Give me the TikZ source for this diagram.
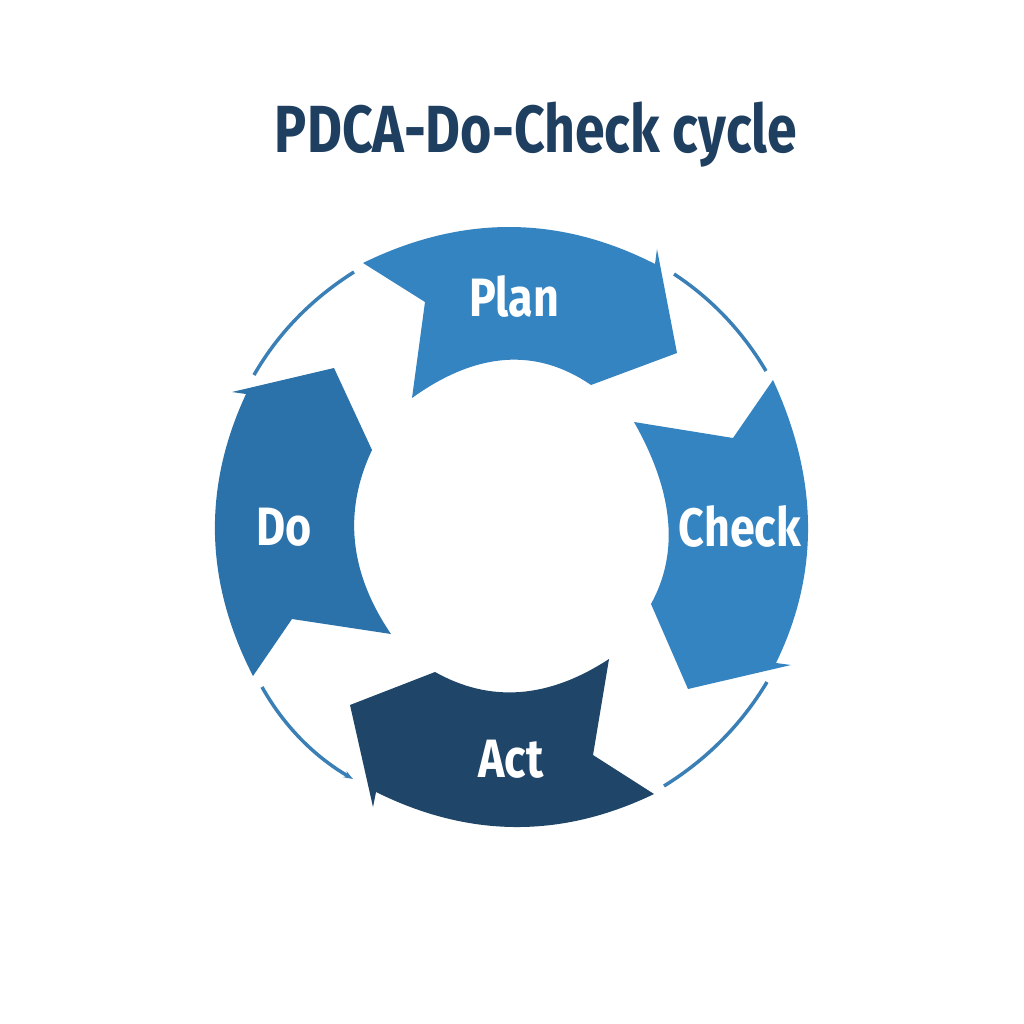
\documentclass[tikz,border=0pt]{standalone}
\usepackage{fontspec}
\setmainfont{Fira Sans}[FakeStretch=0.83,BoldFont={Fira Sans Bold}]
\newfontfamily\titlefont{Fira Sans Bold}[FakeStretch=0.805]
\usetikzlibrary{arrows.meta}
\definecolor{planblue}{HTML}{3584C2}
\definecolor{doblue}{HTML}{2B72AB}
\definecolor{actnavy}{HTML}{1F4568}
\definecolor{titlenavy}{HTML}{1F3F60}
\definecolor{ringblue}{HTML}{3A7FB5}
\tikzset{
  segment/.style={draw=none},
  ringarc/.style={draw=ringblue,line width=2.6pt},
  seglabel/.style={text=white,font=\bfseries\fontsize{40.5}{40.5}\selectfont,inner sep=0pt},
  titletext/.style={text=titlenavy,font=\titlefont\fontsize{50}{50}\selectfont,inner sep=0pt}
}
\begin{document}
\begin{tikzpicture}[x=0.75pt,y=-0.75pt]
\useasboundingbox (0,0) rectangle (1024,1024);
\fill[white] (0,0) rectangle (1024,1024);
% segments
\fill[segment,planblue] (363,263) .. controls (461.7,214.7) and (559,215) .. (655,264) -- (657,249) -- (677,353) -- (591,385)
  .. controls (536,347.3) and (476.3,351.7) .. (412,398) -- (425,302) -- cycle;
\fill[segment,planblue] (773,380) .. controls (818.7,479) and (819.7,573.3) .. (776,663) -- (791,665) -- (688,689) -- (651,604)
  .. controls (679.3,552.7) and (673.7,492) .. (634,422) -- (733,438) -- cycle;
\fill[segment,actnavy] (654,794) .. controls (561.3,838.7) and (468.7,838) .. (376,792) -- (373,807) -- (350,705) -- (435,672)
  .. controls (490.3,703) and (548.3,698.7) .. (609,659) -- (593,755) -- cycle;
\fill[segment,doblue] (253,676) .. controls (204.7,582) and (202.3,488) .. (246,394) -- (232,392) -- (334,368) -- (372,450)
  .. controls (343,511.3) and (349.3,572.7) .. (391,634) -- (292,619) -- cycle;
% thin ring arcs
\coordinate (ur1) at (674,274); \coordinate (ur2) at (766,371);
\coordinate (lr1) at (767,682); \coordinate (lr2) at (664,786);
\coordinate (ll1) at (262,687); \coordinate (ll2) at (353,779);
\coordinate (ul1) at (354,272); \coordinate (ul2) at (254,375);
\draw[ringarc] (ur1) .. controls (711.9,299) and (742.5,331.4) .. (ur2);
\draw[ringarc] (lr1) .. controls (741.3,724.7) and (707,759.3) .. (lr2);
\draw[ringarc,-{Stealth[length=7pt,width=5pt]}] (ll1) .. controls (283.7,725.6) and (313.7,756) .. (ll2);
\draw[ringarc] (ul1) .. controls (311.3,299) and (278,333.3) .. (ul2);
% labels
\node[titletext,anchor=base] (title) at (536,152) {PDCA-Do-Check cycle};
\node[seglabel,anchor=base] (plan) at (514,316) {Plan};
\node[seglabel,anchor=base] (do) at (284,545) {Do};
\node[seglabel,anchor=base] (check) at (740,546) {Check};
\node[seglabel,anchor=base] (act) at (511,777) {Act};
\end{tikzpicture}
\end{document}
